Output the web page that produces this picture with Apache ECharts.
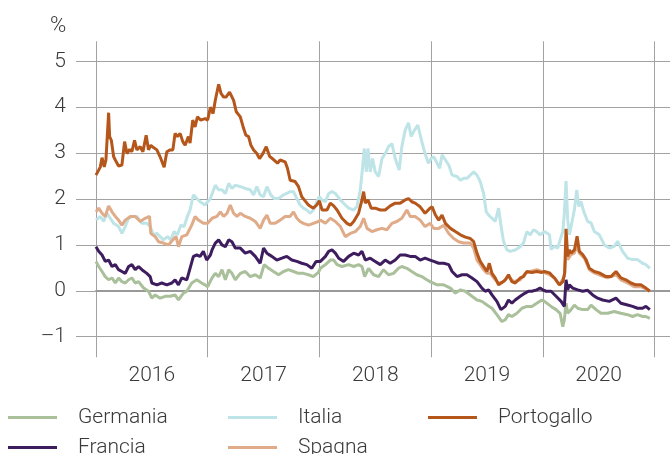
<!DOCTYPE html>
<html>
<head>
<meta charset="utf-8">
<script src="https://cdn.jsdelivr.net/npm/echarts@6/dist/echarts.min.js"></script>
<style>
html,body{margin:0;padding:0;background:#fff;}
#chart{width:670px;height:454px;}
</style>
</head>
<body>
<div id="chart"></div>
<script>
// ---- data (decimal year, %) ----
const years = [2016, 2017, 2018, 2019, 2020];
const yTicks = [-1, 0, 1, 2, 3, 4, 5];
const unitLabel = '%';
const seriesNames = ['Germania', 'Francia', 'Italia', 'Spagna', 'Portogallo'];

const germania = [[2016.000,0.64],[2016.024,0.53],[2016.054,0.42],[2016.083,0.31],[2016.113,0.24],[2016.143,0.28],[2016.173,0.17],[2016.202,0.28],[2016.232,0.20],[2016.262,0.17],[2016.292,0.24],[2016.321,0.28],[2016.351,0.17],[2016.381,0.20],[2016.426,0.06],[2016.470,-0.01],[2016.500,-0.16],[2016.530,-0.09],[2016.574,-0.16],[2016.619,-0.12],[2016.664,-0.12],[2016.708,-0.09],[2016.738,-0.20],[2016.783,-0.05],[2016.813,-0.01],[2016.857,0.17],[2016.902,0.24],[2016.946,0.17],[2016.976,0.13],
[2017.000,0.09],[2017.039,0.28],[2017.068,0.38],[2017.098,0.31],[2017.128,0.46],[2017.158,0.24],[2017.188,0.46],[2017.217,0.38],[2017.247,0.24],[2017.292,0.38],[2017.336,0.42],[2017.381,0.31],[2017.426,0.35],[2017.470,0.28],[2017.506,0.57],[2017.545,0.49],[2017.589,0.42],[2017.634,0.35],[2017.679,0.42],[2017.723,0.46],[2017.768,0.42],[2017.813,0.38],[2017.857,0.38],[2017.902,0.35],[2017.946,0.31],[2017.991,0.40],
[2018.009,0.49],[2018.054,0.57],[2018.098,0.67],[2018.128,0.67],[2018.158,0.57],[2018.202,0.53],[2018.262,0.57],[2018.307,0.53],[2018.351,0.57],[2018.381,0.53],[2018.405,0.31],[2018.440,0.49],[2018.485,0.35],[2018.530,0.31],[2018.574,0.46],[2018.619,0.35],[2018.664,0.38],[2018.708,0.49],[2018.738,0.53],[2018.783,0.49],[2018.827,0.42],[2018.872,0.35],[2018.917,0.31],[2018.961,0.24],[2018.991,0.20],
[2019.000,0.22],[2019.054,0.13],[2019.113,0.13],[2019.173,0.06],[2019.217,-0.05],[2019.262,0.02],[2019.307,-0.01],[2019.366,-0.12],[2019.411,-0.20],[2019.455,-0.23],[2019.500,-0.31],[2019.545,-0.38],[2019.589,-0.52],[2019.634,-0.67],[2019.664,-0.63],[2019.693,-0.52],[2019.723,-0.56],[2019.768,-0.49],[2019.813,-0.38],[2019.857,-0.34],[2019.902,-0.34],[2019.946,-0.27],[2019.991,-0.20],
[2020.015,-0.23],[2020.030,-0.27],[2020.074,-0.34],[2020.119,-0.41],[2020.155,-0.49],[2020.179,-0.78],[2020.193,-0.63],[2020.208,-0.27],[2020.223,-0.49],[2020.253,-0.41],[2020.283,-0.31],[2020.313,-0.38],[2020.357,-0.41],[2020.402,-0.41],[2020.432,-0.31],[2020.476,-0.41],[2020.521,-0.49],[2020.580,-0.49],[2020.640,-0.45],[2020.699,-0.49],[2020.759,-0.52],[2020.804,-0.56],[2020.848,-0.52],[2020.893,-0.56],[2020.923,-0.56],[2020.958,-0.60]];

const francia = [[2016.000,0.96],[2016.024,0.86],[2016.054,0.78],[2016.083,0.64],[2016.113,0.67],[2016.143,0.53],[2016.173,0.57],[2016.202,0.46],[2016.232,0.42],[2016.262,0.38],[2016.292,0.53],[2016.321,0.57],[2016.351,0.46],[2016.381,0.53],[2016.411,0.46],[2016.455,0.38],[2016.485,0.31],[2016.500,0.17],[2016.545,0.13],[2016.589,0.17],[2016.634,0.13],[2016.679,0.17],[2016.708,0.24],[2016.738,0.13],[2016.768,0.28],[2016.813,0.24],[2016.842,0.49],[2016.872,0.75],[2016.902,0.78],[2016.932,0.75],[2016.961,0.86],[2016.991,0.67],
[2017.024,0.78],[2017.039,0.89],[2017.068,1.04],[2017.098,1.11],[2017.128,1.00],[2017.158,0.96],[2017.188,1.11],[2017.217,1.07],[2017.247,0.93],[2017.292,0.93],[2017.336,0.82],[2017.381,0.86],[2017.426,0.75],[2017.470,0.60],[2017.500,0.93],[2017.530,0.82],[2017.574,0.75],[2017.619,0.67],[2017.664,0.71],[2017.708,0.75],[2017.753,0.67],[2017.798,0.64],[2017.842,0.60],[2017.887,0.57],[2017.932,0.49],[2017.970,0.64],
[2018.009,0.64],[2018.054,0.75],[2018.083,0.86],[2018.113,0.89],[2018.143,0.82],[2018.173,0.71],[2018.217,0.64],[2018.262,0.75],[2018.307,0.82],[2018.351,0.78],[2018.381,0.86],[2018.411,0.67],[2018.455,0.71],[2018.500,0.64],[2018.545,0.57],[2018.589,0.67],[2018.634,0.60],[2018.679,0.67],[2018.723,0.78],[2018.768,0.78],[2018.813,0.75],[2018.857,0.75],[2018.902,0.67],[2018.946,0.71],[2018.991,0.67],
[2019.024,0.64],[2019.068,0.60],[2019.113,0.60],[2019.158,0.57],[2019.188,0.42],[2019.232,0.31],[2019.277,0.35],[2019.321,0.35],[2019.366,0.28],[2019.411,0.20],[2019.455,0.06],[2019.485,-0.01],[2019.515,0.02],[2019.545,-0.09],[2019.589,-0.23],[2019.625,-0.41],[2019.664,-0.34],[2019.693,-0.20],[2019.723,-0.27],[2019.753,-0.20],[2019.798,-0.12],[2019.842,-0.05],[2019.872,-0.01],[2019.902,-0.01],[2019.946,0.02],[2019.976,0.06],
[2020.000,0.02],[2020.030,-0.01],[2020.074,-0.01],[2020.119,-0.12],[2020.164,-0.23],[2020.193,-0.34],[2020.208,0.24],[2020.223,0.02],[2020.238,0.13],[2020.268,0.06],[2020.313,0.02],[2020.357,-0.01],[2020.402,0.01],[2020.446,-0.09],[2020.491,-0.16],[2020.536,-0.20],[2020.595,-0.23],[2020.655,-0.16],[2020.699,-0.27],[2020.759,-0.31],[2020.804,-0.34],[2020.848,-0.38],[2020.893,-0.38],[2020.923,-0.34],[2020.958,-0.41]];

const italia = [[2016.000,1.54],[2016.039,1.62],[2016.068,1.51],[2016.098,1.69],[2016.128,1.58],[2016.158,1.47],[2016.202,1.40],[2016.232,1.25],[2016.262,1.40],[2016.292,1.58],[2016.321,1.62],[2016.366,1.62],[2016.411,1.47],[2016.455,1.47],[2016.485,1.40],[2016.515,1.22],[2016.545,1.25],[2016.574,1.18],[2016.604,1.11],[2016.640,1.18],[2016.670,1.11],[2016.699,1.29],[2016.729,1.22],[2016.759,1.43],[2016.789,1.40],[2016.818,1.62],[2016.842,1.76],[2016.872,2.09],[2016.902,2.01],[2016.932,1.94],[2016.976,1.87],
[2017.024,2.01],[2017.068,2.30],[2017.098,2.20],[2017.128,2.20],[2017.158,2.12],[2017.188,2.34],[2017.217,2.23],[2017.247,2.30],[2017.292,2.27],[2017.336,2.23],[2017.381,2.20],[2017.411,2.09],[2017.440,2.27],[2017.470,2.09],[2017.500,2.05],[2017.530,2.27],[2017.565,2.09],[2017.595,2.01],[2017.634,2.01],[2017.679,2.09],[2017.708,2.12],[2017.738,2.16],[2017.768,2.16],[2017.798,2.01],[2017.827,1.87],[2017.857,1.80],[2017.887,1.76],[2017.917,1.69],[2017.946,1.76],[2017.976,1.94],
[2018.000,2.05],[2018.024,1.98],[2018.054,1.94],[2018.083,2.12],[2018.113,2.16],[2018.143,2.12],[2018.188,1.98],[2018.232,1.87],[2018.262,1.80],[2018.307,1.76],[2018.336,1.83],[2018.366,2.20],[2018.387,2.70],[2018.402,3.10],[2018.420,2.59],[2018.435,3.10],[2018.455,2.59],[2018.476,2.88],[2018.500,2.59],[2018.530,2.49],[2018.560,2.88],[2018.589,2.99],[2018.619,3.14],[2018.649,3.21],[2018.679,2.88],[2018.714,2.63],[2018.738,3.14],[2018.768,3.50],[2018.798,3.66],[2018.821,3.36],[2018.851,3.50],[2018.881,3.61],[2018.917,3.25],[2018.946,2.99],[2018.976,2.78],
[2019.000,2.88],[2019.024,2.92],[2019.054,2.78],[2019.077,2.67],[2019.098,2.96],[2019.128,2.85],[2019.158,2.74],[2019.188,2.52],[2019.232,2.49],[2019.262,2.41],[2019.292,2.45],[2019.321,2.45],[2019.351,2.52],[2019.381,2.59],[2019.411,2.52],[2019.440,2.38],[2019.470,2.12],[2019.494,1.72],[2019.515,1.65],[2019.545,1.58],[2019.574,1.51],[2019.604,1.80],[2019.625,1.43],[2019.649,1.07],[2019.679,0.89],[2019.708,0.86],[2019.753,0.89],[2019.798,0.96],[2019.827,1.04],[2019.857,1.29],[2019.887,1.22],[2019.917,1.33],[2019.946,1.29],[2019.976,1.22],
[2020.015,1.29],[2020.030,1.33],[2020.060,1.22],[2020.074,0.90],[2020.104,0.97],[2020.134,0.93],[2020.155,1.11],[2020.179,1.29],[2020.193,1.69],[2020.208,2.39],[2020.223,1.55],[2020.238,1.22],[2020.262,1.51],[2020.283,1.77],[2020.304,2.20],[2020.321,1.84],[2020.342,1.95],[2020.366,1.73],[2020.402,1.51],[2020.432,1.48],[2020.461,1.29],[2020.506,1.22],[2020.551,1.00],[2020.595,0.93],[2020.640,0.97],[2020.670,1.08],[2020.714,0.86],[2020.759,0.71],[2020.804,0.68],[2020.848,0.68],[2020.893,0.60],[2020.923,0.57],[2020.958,0.49]];

const spagna = [[2016.000,1.72],[2016.024,1.80],[2016.054,1.69],[2016.083,1.62],[2016.113,1.85],[2016.143,1.72],[2016.173,1.62],[2016.202,1.54],[2016.232,1.43],[2016.262,1.54],[2016.307,1.62],[2016.351,1.62],[2016.396,1.51],[2016.440,1.58],[2016.479,1.62],[2016.491,1.25],[2016.530,1.18],[2016.560,1.07],[2016.604,1.04],[2016.649,1.00],[2016.688,1.11],[2016.717,1.18],[2016.738,0.96],[2016.768,1.18],[2016.813,1.22],[2016.857,1.43],[2016.887,1.62],[2016.917,1.54],[2016.961,1.47],
[2017.000,1.47],[2017.039,1.58],[2017.083,1.62],[2017.113,1.72],[2017.143,1.62],[2017.173,1.69],[2017.202,1.87],[2017.232,1.69],[2017.262,1.62],[2017.292,1.69],[2017.336,1.62],[2017.381,1.58],[2017.426,1.51],[2017.470,1.36],[2017.500,1.54],[2017.530,1.65],[2017.560,1.47],[2017.604,1.47],[2017.649,1.54],[2017.693,1.62],[2017.738,1.62],[2017.768,1.72],[2017.798,1.58],[2017.827,1.51],[2017.857,1.47],[2017.902,1.43],[2017.946,1.47],[2017.991,1.51],
[2018.009,1.54],[2018.054,1.47],[2018.098,1.58],[2018.143,1.51],[2018.188,1.40],[2018.232,1.18],[2018.277,1.25],[2018.321,1.29],[2018.366,1.40],[2018.396,1.58],[2018.426,1.36],[2018.470,1.29],[2018.515,1.33],[2018.560,1.36],[2018.604,1.33],[2018.649,1.47],[2018.693,1.51],[2018.738,1.58],[2018.783,1.76],[2018.813,1.62],[2018.857,1.62],[2018.902,1.54],[2018.946,1.40],[2018.991,1.47],
[2019.024,1.36],[2019.068,1.36],[2019.113,1.43],[2019.158,1.25],[2019.202,1.14],[2019.247,1.07],[2019.292,1.04],[2019.351,1.04],[2019.381,0.93],[2019.411,0.67],[2019.440,0.57],[2019.470,0.46],[2019.500,0.38],[2019.530,0.38],[2019.560,0.28],[2019.604,0.17],[2019.649,0.20],[2019.693,0.31],[2019.738,0.20],[2019.798,0.24],[2019.842,0.38],[2019.887,0.42],[2019.946,0.46],[2019.991,0.42],
[2020.000,0.42],[2020.060,0.35],[2020.104,0.28],[2020.149,0.13],[2020.193,0.31],[2020.208,0.82],[2020.223,0.68],[2020.253,0.79],[2020.283,0.82],[2020.307,1.00],[2020.327,0.82],[2020.372,0.71],[2020.417,0.46],[2020.461,0.39],[2020.521,0.33],[2020.580,0.28],[2020.655,0.35],[2020.699,0.24],[2020.759,0.17],[2020.818,0.09],[2020.878,0.09],[2020.923,0.04],[2020.958,-0.01]];

const portogallo = [[2016.000,2.52],[2016.039,2.70],[2016.054,2.90],[2016.074,2.70],[2016.089,2.85],[2016.113,3.88],[2016.122,3.36],[2016.137,3.28],[2016.158,2.92],[2016.173,2.85],[2016.202,2.72],[2016.232,2.74],[2016.256,3.25],[2016.277,2.99],[2016.301,3.08],[2016.321,3.03],[2016.345,3.28],[2016.366,3.07],[2016.396,3.14],[2016.420,3.03],[2016.449,3.39],[2016.470,3.07],[2016.491,3.17],[2016.515,3.12],[2016.545,3.07],[2016.574,2.92],[2016.610,2.69],[2016.634,3.03],[2016.664,3.07],[2016.688,3.07],[2016.708,3.43],[2016.729,3.36],[2016.753,3.43],[2016.777,3.25],[2016.798,3.17],[2016.827,3.36],[2016.842,3.22],[2016.866,3.72],[2016.887,3.57],[2016.908,3.79],[2016.938,3.72],[2016.976,3.75],
[2017.000,3.72],[2017.024,4.00],[2017.048,3.86],[2017.068,4.15],[2017.098,4.50],[2017.119,4.30],[2017.143,4.22],[2017.164,4.22],[2017.196,4.33],[2017.232,4.15],[2017.256,3.90],[2017.292,3.79],[2017.321,3.54],[2017.342,3.39],[2017.366,3.36],[2017.387,3.17],[2017.411,3.07],[2017.440,2.99],[2017.464,2.88],[2017.494,2.99],[2017.524,3.14],[2017.554,2.93],[2017.589,2.86],[2017.625,2.78],[2017.649,2.85],[2017.693,2.81],[2017.714,2.67],[2017.738,2.41],[2017.783,2.38],[2017.813,2.27],[2017.842,2.05],[2017.872,1.96],[2017.902,1.87],[2017.946,1.80],[2017.976,1.87],
[2018.000,1.96],[2018.024,1.76],[2018.068,1.76],[2018.098,1.91],[2018.128,1.85],[2018.158,1.76],[2018.202,1.58],[2018.247,1.47],[2018.277,1.43],[2018.307,1.51],[2018.351,1.69],[2018.381,1.98],[2018.396,2.16],[2018.411,1.91],[2018.435,1.98],[2018.464,1.80],[2018.500,1.80],[2018.545,1.76],[2018.589,1.76],[2018.634,1.85],[2018.679,1.91],[2018.723,1.91],[2018.768,1.98],[2018.798,2.01],[2018.827,1.94],[2018.857,1.91],[2018.902,1.83],[2018.946,1.69],[2018.991,1.80],
[2019.009,1.83],[2019.039,1.65],[2019.068,1.54],[2019.098,1.65],[2019.128,1.47],[2019.173,1.36],[2019.217,1.29],[2019.262,1.22],[2019.307,1.17],[2019.351,1.14],[2019.381,1.07],[2019.411,0.82],[2019.440,0.64],[2019.470,0.53],[2019.500,0.42],[2019.521,0.60],[2019.545,0.38],[2019.574,0.28],[2019.604,0.13],[2019.634,0.18],[2019.664,0.24],[2019.693,0.35],[2019.723,0.20],[2019.753,0.17],[2019.798,0.28],[2019.827,0.31],[2019.857,0.42],[2019.902,0.40],[2019.946,0.42],[2019.991,0.40],
[2020.015,0.42],[2020.060,0.39],[2020.104,0.28],[2020.149,0.13],[2020.179,0.20],[2020.196,0.39],[2020.208,1.35],[2020.223,0.75],[2020.238,0.89],[2020.253,0.82],[2020.283,0.89],[2020.307,1.19],[2020.327,0.86],[2020.357,0.79],[2020.387,0.68],[2020.417,0.49],[2020.461,0.42],[2020.506,0.39],[2020.565,0.31],[2020.610,0.31],[2020.655,0.42],[2020.699,0.28],[2020.744,0.24],[2020.789,0.17],[2020.833,0.13],[2020.878,0.13],[2020.923,0.06],[2020.958,-0.01]];

// ---- styling ----
const FONT = 'Roboto, "Liberation Sans", Arial, sans-serif';
const TXT = '#3a3a3a';
const GRIDC = '#a2a2a2';
const FS = 21;
const colors = {
  Germania: '#a9c09b',
  Francia: '#3e1d5e',
  Italia: '#bee4e7',
  Spagna: '#e0ab89',
  Portogallo: '#b5561b'
};
const dataByName = {Germania: germania, Francia: francia, Italia: italia, Spagna: spagna, Portogallo: portogallo};
const drawOrder = ['Italia', 'Spagna', 'Germania', 'Francia', 'Portogallo'];
// legend slots: [column left, row top]
const legendSlots = {
  Germania: [8, 407], Francia: [8, 437],
  Italia: [228, 407], Spagna: [228, 437],
  Portogallo: [428, 407]
};

const xMin = years[0];
const xMax = years[0] + 574 / 111.7;

const chart = echarts.init(document.getElementById('chart'), null, {renderer: 'canvas'});

chart.setOption({
  animation: false,
  backgroundColor: '#fff',
  title: {
    text: unitLabel, left: 50, top: 15, padding: 0,
    textStyle: {fontFamily: FONT, fontSize: 22, fontWeight: 300, color: TXT}
  },
  legend: seriesNames.map(function (name) {
    return {
      orient: 'horizontal',
      left: legendSlots[name][0], top: legendSlots[name][1],
      padding: 0,
      icon: 'rect',
      itemWidth: 49,
      itemHeight: 3,
      selectedMode: false,
      data: [name],
      textStyle: {fontFamily: FONT, fontSize: FS, fontWeight: 300, color: TXT, lineHeight: 21, padding: [0, 0, 0, 16]}
    };
  }),
  grid: [
    {left: 96, right: 0, top: 61.3, bottom: 117.3},
    {left: 96, right: 0, top: 41.3, bottom: 96.7}
  ],
  xAxis: [
    {
      type: 'value', gridIndex: 0, min: xMin, max: xMax,
      axisLine: {show: true, onZero: true, lineStyle: {color: '#999', width: 2}},
      axisTick: {show: false}, axisLabel: {show: false}, splitLine: {show: false}
    },
    {
      type: 'value', gridIndex: 1, min: xMin, max: xMax, interval: 0.5,
      axisLine: {show: false}, axisTick: {show: false},
      splitLine: {show: true, lineStyle: {color: [GRIDC, 'rgba(0,0,0,0)'], width: 1}},
      axisLabel: {
        show: true, margin: 8, fontFamily: FONT, fontSize: FS, fontWeight: 300, color: TXT,
        showMinLabel: false, showMaxLabel: false,
        formatter: function (v) {
          const y = Math.floor(v + 1e-6);
          return (Math.abs(v - y - 0.5) < 1e-6 && years.indexOf(y) >= 0) ? String(y) : '';
        }
      }
    }
  ],
  yAxis: [
    {
      type: 'value', gridIndex: 0, min: yTicks[0], max: yTicks[yTicks.length - 1], interval: 1,
      axisLine: {show: false},
      axisTick: {show: true, length: 20, lineStyle: {color: GRIDC, width: 1}},
      splitLine: {show: true, lineStyle: {color: GRIDC, width: 1}},
      axisLabel: {
        margin: 30, fontFamily: FONT, fontSize: FS, fontWeight: 300, color: TXT,
        formatter: function (v) { return v < 0 ? '\u2013' + Math.abs(v) : String(v); }
      }
    },
    {type: 'value', gridIndex: 1, min: 0, max: 1, show: false}
  ],
  series: drawOrder.map(function (name) {
    return {
      name: name, type: 'line', xAxisIndex: 0, yAxisIndex: 0,
      data: dataByName[name], showSymbol: false, symbol: 'none',
      lineStyle: {color: colors[name], width: 3}, itemStyle: {color: colors[name]},
      emphasis: {disabled: true}, silent: true
    };
  })
});
</script>
</body>
</html>
